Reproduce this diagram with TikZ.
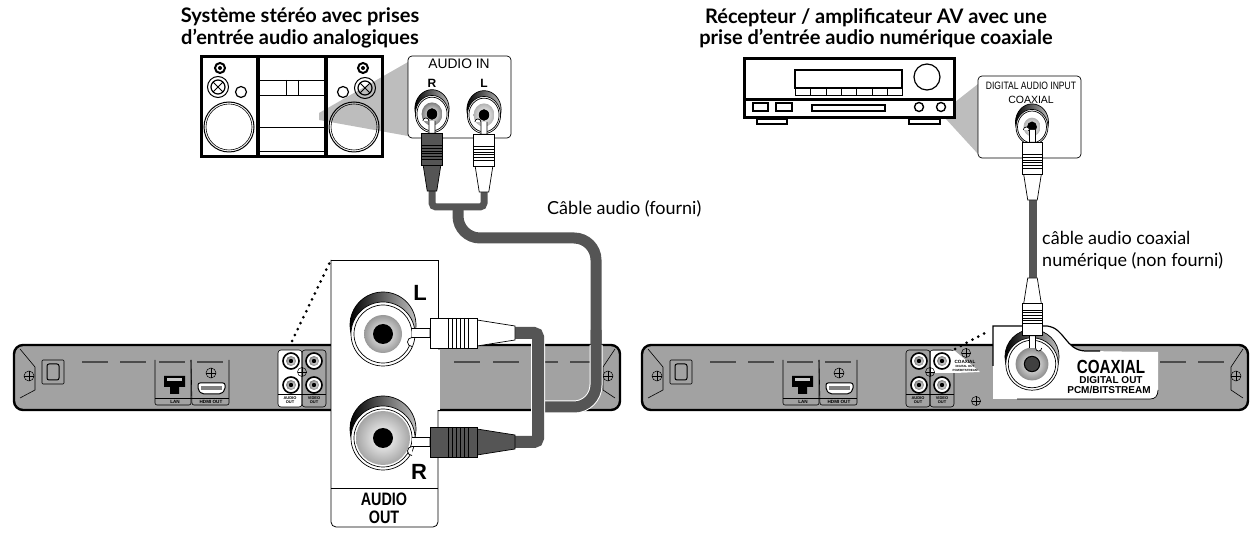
\documentclass[tikz,border=0pt]{standalone}
\usepackage{fontspec}
\setmainfont{Lato}
\newfontfamily\arialfont{Liberation Sans}
\newfontfamily\arialnarrow[FakeStretch=0.8]{Liberation Sans}
\definecolor{cablegray}{HTML}{555555}
\definecolor{bodygray}{HTML}{A2A2A2}
\definecolor{wedgegray}{HTML}{BDBDBD}
\tikzset{
  heading/.style={font=\fontsize{20}{21.5}\selectfont\bfseries,align=center,inner sep=0pt},
  caption/.style={font=\fontsize{18}{22}\selectfont,align=left,inner sep=0pt,anchor=west},
  paneltext/.style={font=\arialfont,inner sep=0pt},
  tinytext/.style={font=\arialfont\bfseries\fontsize{4.6}{5}\selectfont,align=center,inner sep=0pt},
  cable/.style={line width=#1,color=cablegray,rounded corners=4pt},
  halo/.style={line width=#1,color=white,rounded corners=4pt},
  pics/screw/.style={code={
    \draw [line width=.5pt] (0,0) circle [radius=5];
    \draw [line width=.5pt] (-5,0)--(5,0) (0,-5)--(0,5);
  }},
  pics/minijack/.style={code={
    \draw [line width=1.6pt,fill=white] (0,0) circle [radius=8];
    \shade [inner color=white,outer color=gray] (0,0) circle [radius=5];
    \fill (0,0) circle [radius=2.2];
  }},
  pics/rcajack/.style 2 args={code={
    \draw [line width=.7pt,left color=black,right color=gray!50] (0,-9) circle [radius=33];
    \draw [line width=.7pt,fill=white] (0,0) circle [radius=32];
    \draw [line width=.7pt,fill=white] (0,0) circle [radius=29];
    \shade [inner color=white,outer color=#1] (0,0) circle [radius=#2];
    \fill (0,0) circle [radius=10];
  }},
  pics/rcaplug/.style 2 args={code={
    \draw [line width=.7pt,fill=white] (0,-4.5)--(18,-4.5)--(18,4.5)--(0,4.5) arc (270:90:4.5);
    \draw [line width=.7pt,fill=#1] (65,-13)--(103,-7)--(103,7)--(65,13)--cycle;
    \draw [line width=.7pt,fill=#1] (18,-15) rectangle (65,15);
    \foreach \sx in {36,40,44,48,52,56}
      \draw [line width=.6pt,color=#2] (\sx,-15)--(\sx,15);
  }},
  pics/player/.style n args={2}{code={
    \draw [line width=2.4pt,fill=bodygray,rounded corners=9pt] (14,345) rectangle (620,410);
    \draw [line width=.6pt] (20,349)--(35,367)--(35,390)--(20,398);
    \draw [line width=.6pt] (615,349)--(603,367)--(603,390)--(615,398);
    \pic at (29,376) {screw};
    \pic at (608,376) {screw};
    \draw [line width=.6pt,rounded corners=1pt] (42,360) rectangle (64,384);
    \draw [line width=1pt,rounded corners=2pt] (47,364) rectangle (59,380);
    \foreach \sx in {82,120,159,197,454,493,532,570}
      \draw [line width=2pt,color=black!70] (\sx,362)--(\sx+26,362);
    % LAN and HDMI boxes
    \draw [line width=.6pt,rounded corners=2pt] (155,360)--(155,405)--(191,405)--(191,360);
    \draw [line width=.6pt,rounded corners=2pt] (191,360)--(192,405)--(229,405)--(229,360);
    \draw [line width=.6pt] (155,398)--(229,398);
    \node [tinytext] (lanlabel) at (175,402) {LAN};
    \node [tinytext] (hdmilabel) at (211,402) {HDMI OUT};
    \fill (164,376)--(185,376)--(185,387)--(179,387)--(179,394)--(170,394)--(170,387)--(164,387)--cycle;
    \fill [color=bodygray!60] (167,378) rectangle (182,381);
    \pic at (211,373) {screw};
    \draw [line width=1pt,fill=white,rounded corners=2pt] (198,383)--(225,383)--(225,390)--(221,394)--(202,394)--(198,390)--cycle;
    \fill [color=gray] (201,386) rectangle (222,390);
    % rear jacks
    \draw [line width=.6pt,fill=#1,rounded corners=3pt] (278,350) rectangle (302,407);
    \draw [line width=.6pt,rounded corners=3pt] (302,350) rectangle (326,407);
    #2
    \draw [line width=.6pt] (278,394)--(326,394);
    \node [tinytext,font=\arialfont\bfseries\fontsize{4}{4}\selectfont] (audiolabel) at (290,400) {AUDIO\\OUT};
    \node [tinytext,font=\arialfont\bfseries\fontsize{4}{4}\selectfont] (videolabel) at (314,400) {VIDEO\\OUT};
    \pic at (291,361) {minijack};
    \pic at (314,361) {minijack};
    \pic at (291,385) {minijack};
    \pic at (314,385) {minijack};
    \pic [scale=.9] at (302,372) {screw};
  }},
}
\begin{document}
\begin{tikzpicture}[x=1pt,y=-1pt]
  \useasboundingbox (0,0) rectangle (1259,534);
  \node [heading] (stereohead) at (300,28) {Système stéréo avec prises\\d’entrée audio analogiques};
  \node [heading] (avhead) at (876,28) {Récepteur / amplificateur AV avec une\\prise d’entrée audio numérique coaxiale};

  % stereo
  \fill [color=white] (200,56) rectangle (383,158);
  \fill [color=wedgegray] (319,113)--(408,62)--(408,136)--(319,120)--cycle;
  \draw [line width=3pt] (201,57) rectangle (382,157);
  \draw [line width=4.5pt] (258,57)--(258,157);
  \draw [line width=4.5pt] (326,57)--(326,157);
  \draw [line width=.8pt] (258,80)--(326,80) (258,95)--(326,95) (258,127)--(326,127) (258,151)--(326,151);
  \draw [line width=.8pt] (286,80)--(286,95) (298,80)--(298,95);
  \foreach \sx/\sy/\tx/\ty/\kx/\lx in {220/68/218/87/241/229,363/68/365/88/343/354} {
    \draw [line width=2pt] (\sx,\sy) circle [radius=5];
    \fill (\sx,\sy) circle [radius=2];
    \draw [line width=1pt] (\tx,\ty) circle [radius=10.5];
    \draw [line width=1.2pt] (\tx,\ty) circle [radius=7];
    \draw [line width=.8pt] (\tx-5,\ty-5)--(\tx+5,\ty+5) (\tx-5,\ty+5)--(\tx+5,\ty-5);
    \draw [line width=1.2pt] (\kx,92) circle [radius=5.5];
    \draw [line width=1pt] (\lx,127) circle [radius=25];
    \draw [line width=.6pt] (\lx,127) circle [radius=23];
  }

  % audio in panel
  \draw [line width=.7pt,fill=white,rounded corners=4pt] (408,56) rectangle (511,138);
  \node [paneltext,font=\arialfont\fontsize{13.8}{14}\selectfont] (audioin) at (459,64) {AUDIO IN};
  \node [paneltext,font=\arialfont\bfseries\fontsize{12}{12}\selectfont] (inr) at (432,83) {R};
  \node [paneltext,font=\arialfont\bfseries\fontsize{12}{12}\selectfont] (inl) at (484,83) {L};
  \pic [xscale=.52,yscale=.58] at (432,114) {rcajack={gray}{20}};
  \pic [xscale=.52,yscale=.58] at (484,115) {rcajack={gray!60}{20}};

  % cables up left
  \draw [cable=7pt] (432,185)--(432,207)--(484,207)--(484,185);
  \draw [cable=11pt,rounded corners=22pt] (458,207)--(458,238)--(596,238)--(596,407)--(538,407);
  \pic [rotate=-90,scale=.68] at (432,121) {rcaplug={cablegray}{black}};
  \pic [rotate=-90,scale=.68] at (484,122) {rcaplug={white}{black}};

  \node [caption] (audiocable) at (547,209) {Câble audio (fourni)};

  % left player, cable passes in front of it
  \pic at (0,0) {player={white}{}};
  \draw [halo=13pt,rounded corners=22pt] (596,345)--(596,407)--(538,407);
  \draw [cable=11pt,rounded corners=22pt] (596,330)--(596,407)--(538,407);
  \draw [halo=14pt] (515,333)--(538,333)--(538,442)--(515,442);
  \draw [cable=12pt] (515,333)--(538,333)--(538,442)--(515,442);

  % dotted lead and audio out panel
  \draw [line width=3pt,line cap=round,dash pattern=on 0pt off 6.6pt] (292,341)--(330,262);
  \fill [color=white] (331,260) rectangle (438,488);
  \draw [line width=.8pt,rounded corners=5pt] (331,260)--(331,527)--(438,527)--(438,410);
  \draw [line width=.8pt] (331,260)--(438,260)--(438,320);
  \draw [line width=.8pt] (331,488)--(438,488);
  \fill [color=white] (436,350) rectangle (440,410);
  \pic at (383,334) {rcajack={gray!80}{19}};
  \pic at (383,438) {rcajack={gray!70}{27}};
  \pic at (412,333) {rcaplug={white}{black}};
  \pic at (412,442) {rcaplug={cablegray}{black}};
  \node [paneltext,font=\arialfont\bfseries\fontsize{22}{24}\selectfont] (outl) at (420,293) {L};
  \node [paneltext,font=\arialfont\bfseries\fontsize{22}{24}\selectfont] (outr) at (419,472) {R};
  \node [paneltext,font=\arialnarrow\bfseries\fontsize{18}{18}\selectfont,align=center] (audioout) at (384,508) {AUDIO\\OUT};

  % receiver
  \fill [color=wedgegray] (950,106)--(978,84)--(978,154)--(945,118)--cycle;
  \draw [line width=3pt,fill=white] (744,59) rectangle (954,118);
  \draw [line width=3pt] (744,100)--(954,100);
  \draw [line width=1.2pt] (795,70) rectangle (902,88);
  \draw [line width=1pt] (795,88) rectangle (902,96);
  \foreach \sx in {810,826,841,856,872,887}
    \draw [line width=1pt] (\sx,88)--(\sx,96);
  \draw [line width=1.2pt] (927,77) circle [radius=13];
  \draw [line width=1.2pt] (753,103) rectangle (768,111);
  \draw [line width=1.2pt] (776,103) rectangle (792,111);
  \draw [line width=1.2pt] (812,105) rectangle (885,111);
  \draw [line width=1.4pt] (919,107) circle [radius=4.5];
  \draw [line width=1.4pt] (941,107) circle [radius=4.5];
  \draw [line width=2pt,fill=white] (757,119) rectangle (787,124);
  \draw [line width=2pt,fill=white] (909,119) rectangle (940,124);

  % coaxial input panel
  \draw [line width=.7pt,fill=white,rounded corners=4pt] (978,76) rectangle (1081,158);
  \node [paneltext,font=\arialnarrow\fontsize{10.7}{12}\selectfont] (digitalin) at (1031,86) {DIGITAL AUDIO INPUT};
  \node [paneltext,font=\arialfont\fontsize{10.5}{12}\selectfont] (coaxin) at (1031,100) {COAXIAL};
  \pic [xscale=.5,yscale=.55] at (1032,127) {rcajack={gray!60}{17}};

  % right player
  \pic at (628,0) {player={bodygray}{
    \fill [color=white] (303,351)--(327,351)--(352,372)--(327,373)--(303,373)--cycle;
  }};
  \pic [scale=.9] at (966,353) {screw};
  \pic [scale=.9] at (976,401) {screw};
  \node [tinytext] (coaxtiny) at (965,366) {COAXIAL\\[-1pt]\fontsize{3}{3}\selectfont DIGITAL OUT\\[-1pt]\fontsize{3}{3}\selectfont PCM/BITSTREAM};

  % coaxial callout
  \draw [line cap=round,dash pattern=on 0pt off 6.6pt,line width=3pt] (955,349)--(989,331);
  \fill [color=white] (993,326)--(1047,326) .. controls (1065,328) and (1065,350) .. (1085,351)--(1158,352)--(1158,390) .. controls (1158,396) and (1155,399) .. (1150,399)--(993,399)--cycle;
  \draw [line width=1.2pt] (993,366)--(993,326)--(1047,326) .. controls (1065,328) and (1065,350) .. (1085,351)--(1100,351);
  \draw [line width=.7pt] (1017,399)--(1150,399) .. controls (1155,399) and (1158,396) .. (1158,390);
  \pic [scale=.82] at (1032,364) {rcajack={gray!90}{20}};
  \fill [color=black!75] (1032,364) circle [radius=7];
  \node [paneltext,font=\arialnarrow\bfseries\fontsize{19}{20}\selectfont] (coaxbig) at (1111,367) {COAXIAL};
  \node [paneltext,font=\arialfont\bfseries\fontsize{10}{12}\selectfont] (digitalout) at (1111,380) {DIGITAL OUT};
  \node [paneltext,font=\arialfont\bfseries\fontsize{10}{12}\selectfont] (pcmout) at (1109,390) {PCM/BITSTREAM};

  % coaxial cable
  \draw [cable=8pt,rounded corners=0pt] (1033,197)--(1033,280);
  \pic [rotate=-90,scale=.68] at (1032.5,130) {rcaplug={white}{black}};
  \pic [rotate=90,scale=.68] at (1032.5,348) {rcaplug={white}{black}};
  \node [caption] (coaxcable) at (1042,250) {câble audio coaxial\\numérique (non fourni)};
\end{tikzpicture}
\end{document}
